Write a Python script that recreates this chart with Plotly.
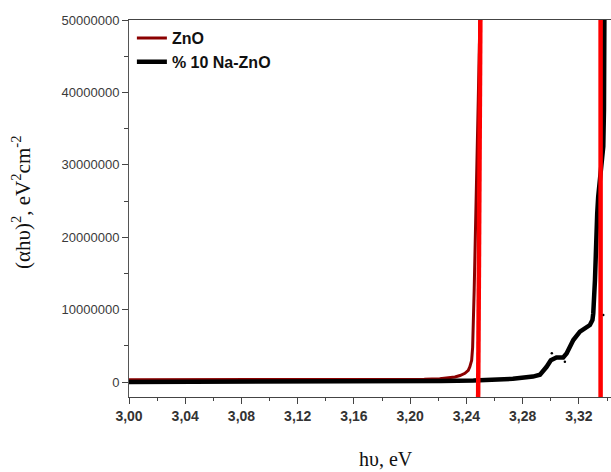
import plotly.graph_objects as go

# ---- data ----
zno_x = [3.000, 3.010, 3.050, 3.100, 3.150, 3.200, 3.210, 3.221, 3.2318, 3.2354,
         3.2389, 3.2413, 3.2424, 3.2437, 3.2444, 3.2455, 3.2465, 3.2475, 3.2484, 3.2496]
zno_y = [300000, 300000, 300000, 300000, 300000, 320000, 380000, 450000, 700000, 900000,
         1200000, 1600000, 2100000, 3000000, 4800000, 12700000, 20600000, 28900000, 39000000, 50500000]

na_x = [3.000, 3.050, 3.100, 3.150, 3.200, 3.205, 3.222, 3.245, 3.260, 3.273,
        3.2873, 3.2923, 3.2970, 3.3000, 3.3040, 3.3088, 3.3112, 3.3160, 3.3207, 3.3278,
        3.3296, 3.3302, 3.3314, 3.3320, 3.3330, 3.3337, 3.3355, 3.3373, 3.3378, 3.3381]
na_y = [0, 0, 0, 0, 20000, 100000, 150000, 200000, 300000, 450000,
        750000, 1000000, 2100000, 3000000, 3400000, 3400000, 3950000, 5800000, 6950000, 7870000,
        8560000, 9500000, 14100000, 18700000, 23300000, 25600000, 29000000, 32500000, 37600000, 50500000]

na_dots_x = [3.3007, 3.3100, 3.3373]
na_dots_y = [3960000, 2800000, 9250000]

tangent1_x = [3.2483, 3.2499]
tangent1_y = [-2500000, 50500000]
tangent2_x = [3.3354, 3.3354]
tangent2_y = [-2500000, 50500000]

y_tickvals = [0, 10000000, 20000000, 30000000, 40000000, 50000000]
y_ticktext = ["0", "10000000", "20000000", "30000000", "40000000", "50000000"]
x_tickvals = [3.00, 3.04, 3.08, 3.12, 3.16, 3.20, 3.24, 3.28, 3.32]
x_ticktext = ["3,00", "3,04", "3,08", "3,12", "3,16", "3,20", "3,24", "3,28", "3,32"]

series_names = ["ZnO", "% 10 Na-ZnO"]

fig = go.Figure()
fig.add_trace(go.Scatter(x=zno_x, y=zno_y, mode="lines", name=series_names[0],
                         line=dict(color="#8B0000", width=3)))
fig.add_trace(go.Scatter(x=na_x, y=na_y, mode="lines", name=series_names[1],
                         line=dict(color="#000000", width=4.5)))
fig.add_trace(go.Scatter(x=na_dots_x, y=na_dots_y, mode="markers", showlegend=False,
                         marker=dict(color="#000000", size=2.5)))
fig.add_trace(go.Scatter(x=tangent1_x, y=tangent1_y, mode="lines", showlegend=False,
                         line=dict(color="#FF0000", width=4.5)))
fig.add_trace(go.Scatter(x=tangent2_x, y=tangent2_y, mode="lines", showlegend=False,
                         line=dict(color="#FF0000", width=4.5)))

pw, ph = 611 - 129 - 0, 472 - 20 - 75

fig.update_layout(
    width=611, height=472,
    margin=dict(l=129, r=0, t=20, b=75),
    plot_bgcolor="white", paper_bgcolor="white",
    font=dict(family="Liberation Sans, Arial", color="#333333"),
    showlegend=True,
    legend=dict(x=0.006, y=0.997, xanchor="left", yanchor="top",
                bgcolor="rgba(0,0,0,0)", borderwidth=0,
                font=dict(family="Liberation Sans, Arial", size=16, color="#111111",
                          weight="bold"),
                tracegroupgap=0, itemwidth=30),
    annotations=[
        dict(text="hυ, eV", x=(386 - 129) / pw, y=(397 - 459) / ph,
             xref="paper", yref="paper", xanchor="center", yanchor="middle",
             showarrow=False, font=dict(family="Liberation Serif, Times New Roman",
                                        size=20, color="#111111")),
        dict(text="(αhυ)<sup>2</sup>, eV<sup>2</sup>cm<sup>-2</sup>",
             x=(21 - 129) / pw, y=(397 - 203) / ph,
             xref="paper", yref="paper", xanchor="center", yanchor="middle",
             showarrow=False, textangle=-90,
             font=dict(family="Liberation Serif, Times New Roman", size=21, color="#111111")),
    ],
)

fig.update_xaxes(
    range=[3.0, 3.3428], showgrid=False, zeroline=False,
    showline=True, linecolor="#444444", linewidth=1, mirror=True,
    ticks="outside", ticklen=6, tickcolor="#444444", tickwidth=1,
    tickvals=x_tickvals, ticktext=x_ticktext,
    tickfont=dict(family="Liberation Sans, Arial", size=14, color="#333333", weight="bold"),
    minor=dict(dtick=0.02, tick0=3.0, ticks="outside", ticklen=3, tickcolor="#444444"),
)
fig.update_yaxes(
    range=[-2070000, 50000000], showgrid=False, zeroline=False,
    showline=True, linecolor="#555555", linewidth=1, mirror=False,
    ticks="outside", ticklen=6, tickcolor="#444444", tickwidth=1,
    tickvals=y_tickvals, ticktext=y_ticktext,
    tickfont=dict(family="Liberation Sans, Arial", size=13, color="#3a3a3a"),
    minor=dict(dtick=5000000, tick0=0, ticks="outside", ticklen=4, tickcolor="#444444"),
)

fig.write_html("out.html")
